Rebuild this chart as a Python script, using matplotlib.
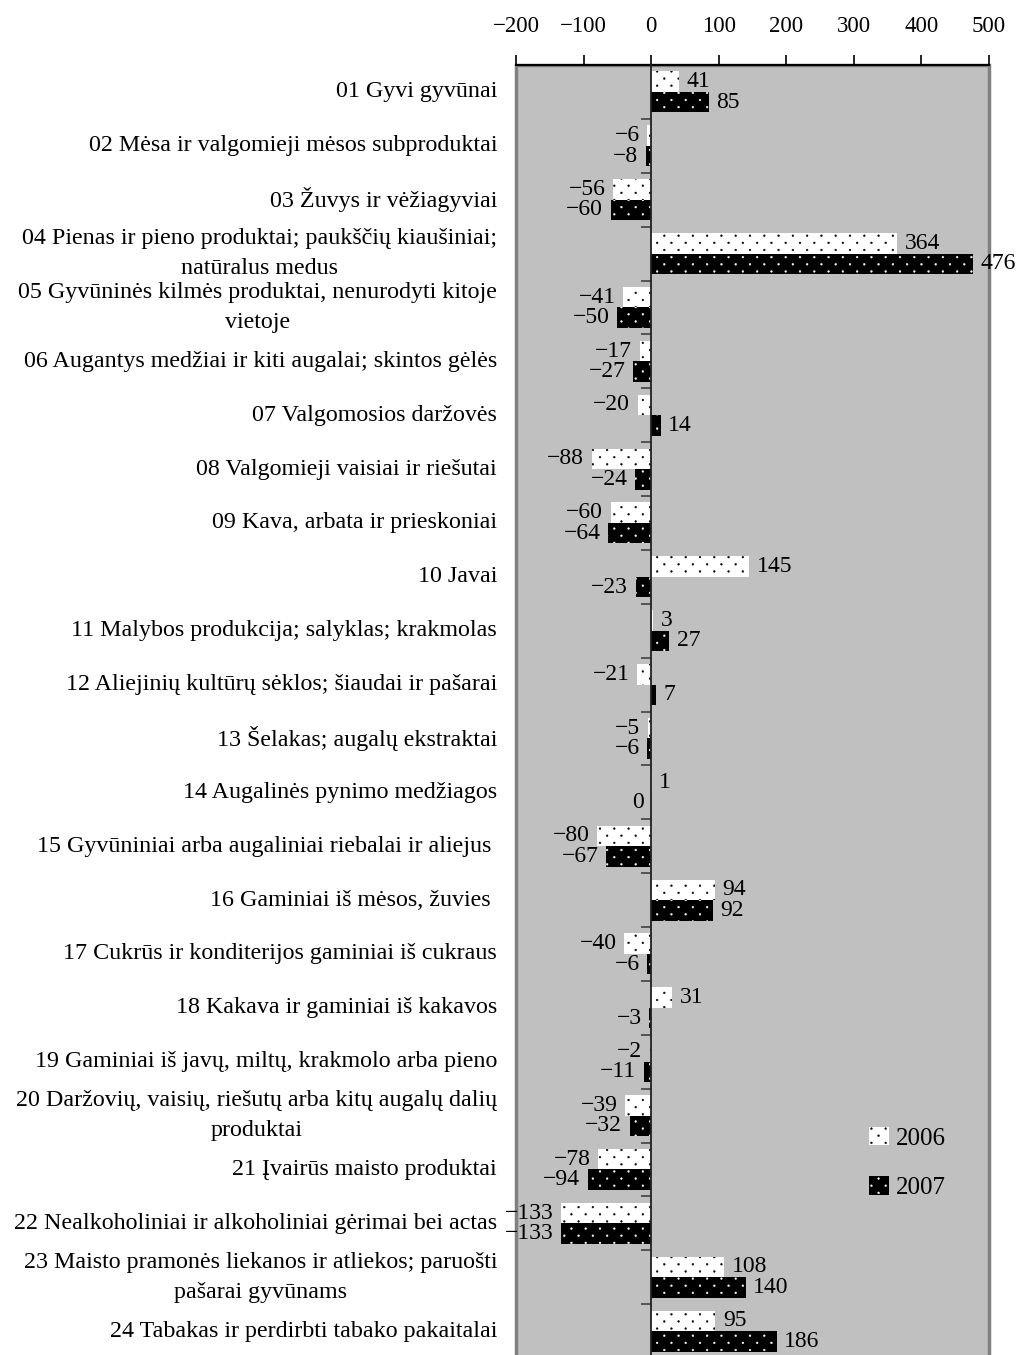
import matplotlib
matplotlib.use("Agg")
import matplotlib.pyplot as plt
import matplotlib.transforms as mtransforms
import matplotlib.hatch as mhatch
from matplotlib.path import Path
from matplotlib.patches import Patch
import numpy as np

plt.rcParams['font.family'] = ['Liberation Serif', 'DejaVu Serif']
plt.rcParams['hatch.linewidth'] = 0.3


class StaggeredDots(mhatch.HatchPatternBase):
    """Small filled dots, staggered rows, rows twice as dense as columns."""
    filled = True

    def __init__(self, hatch, density):
        self.ncols = 7
        self.nrows = 14
        self.radius = 0.009
        circ = Path.unit_circle()
        self.shape_vertices = circ.vertices
        self.shape_codes = circ.codes
        if hatch.count('.') == 0:
            self.num_vertices = 0
            return
        n_even = (self.nrows // 2 + 1) * (self.ncols + 1)
        n_odd = (self.nrows // 2) * self.ncols
        self.num_vertices = (n_even + n_odd) * len(self.shape_vertices)

    def set_vertices_and_codes(self, vertices, codes):
        sv = self.shape_vertices * self.radius
        vparts, cparts = [], []
        step = 1.0 / self.ncols
        for r in range(self.nrows + 1):
            if r % 2 == 0:
                cols = np.linspace(0, 1, self.ncols + 1)
            else:
                cols = np.linspace(step / 2, 1 - step / 2, self.ncols)
            rp = r / self.nrows
            for c in cols:
                vparts.append(sv + [c, rp])
                cparts.append(self.shape_codes)
        np.concatenate(vparts, out=vertices)
        np.concatenate(cparts, out=codes)


mhatch._hatch_types = [h for h in mhatch._hatch_types
                       if h is not mhatch.SmallFilledCircles] + [StaggeredDots]

categories = [
    "01 Gyvi gyvūnai",
    "02 Mėsa ir valgomieji mėsos subproduktai",
    "03 Žuvys ir vėžiagyviai",
    "04 Pienas ir pieno produktai; paukščių kiaušiniai;\nnatūralus medus",
    "05 Gyvūninės kilmės produktai, nenurodyti kitoje\nvietoje",
    "06 Augantys medžiai ir kiti augalai; skintos gėlės",
    "07 Valgomosios daržovės",
    "08 Valgomieji vaisiai ir riešutai",
    "09 Kava, arbata ir prieskoniai",
    "10 Javai",
    "11 Malybos produkcija; salyklas; krakmolas",
    "12 Aliejinių kultūrų sėklos; šiaudai ir pašarai",
    "13 Šelakas; augalų ekstraktai",
    "14 Augalinės pynimo medžiagos",
    "15 Gyvūniniai arba augaliniai riebalai ir aliejus ",
    "16 Gaminiai iš mėsos, žuvies ",
    "17 Cukrūs ir konditerijos gaminiai iš cukraus",
    "18 Kakava ir gaminiai iš kakavos",
    "19 Gaminiai iš javų, miltų, krakmolo arba pieno",
    "20 Daržovių, vaisių, riešutų arba kitų augalų dalių\nproduktai",
    "21 Įvairūs maisto produktai",
    "22 Nealkoholiniai ir alkoholiniai gėrimai bei actas",
    "23 Maisto pramonės liekanos ir atliekos; paruošti\npašarai gyvūnams",
    "24 Tabakas ir perdirbti tabako pakaitalai",
]
values_2006 = [41, -6, -56, 364, -41, -17, -20, -88, -60, 145, 3, -21, -5, 1,
               -80, 94, -40, 31, -2, -39, -78, -133, 108, 95]
values_2007 = [85, -8, -60, 476, -50, -27, 14, -24, -64, -23, 27, 7, -6, 0,
               -67, 92, -6, -3, -11, -32, -94, -133, 140, 186]
series_names = ["2006", "2007"]
x_ticks = [-200, -100, 0, 100, 200, 300, 400, 500]

FS_TICK = 16.5
FS_VAL = 17
FS_CAT = 17.3
FS_LEG = 18
W, H = 1019, 1355
fig = plt.figure(figsize=(W / 100, H / 100), dpi=100)
left, right, top, bottom = 516, 989, 65, 1358
ax = fig.add_axes([left / W, (H - bottom) / H, (right - left) / W, (bottom - top) / H])

ax.set_facecolor('#C0C0C0')
ax.patch.set_edgecolor('#808080')
ax.patch.set_linewidth(2.5)

n = len(categories)
y = np.arange(n)
bh = 0.38
ax.barh(y - bh / 2, values_2006, height=bh, color='white', edgecolor='black',
        linewidth=0, hatch='.', zorder=3)
ax.barh(y + bh / 2, values_2007, height=bh, color='black', edgecolor='white',
        linewidth=0, hatch='.', zorder=3)


def fmt(v):
    return str(v).replace('-', '\u2212')


pad = 11
for vals, offs in ((values_2006, -bh / 2), (values_2007, bh / 2)):
    for i, v in enumerate(vals):
        if v > 0:
            ax.text(v + pad, i + offs, fmt(v), ha='left', va='center', fontsize=FS_VAL,
                    clip_on=False, zorder=4)
        else:
            ax.text(v - pad, i + offs, fmt(v), ha='right', va='center', fontsize=FS_VAL,
                    clip_on=False, zorder=4)

ax.set_xlim(-200, 500)
ax.set_ylim(n - 0.5, -0.5)

# x axis on top
ax.xaxis.tick_top()
ax.set_xticks(x_ticks)
ax.set_xticklabels([fmt(t) for t in x_ticks])
ax.tick_params(axis='x', direction='out', length=7, width=1.2, pad=13,
               labelsize=FS_TICK, color='black')

# y axis at zero with boundary ticks
ax.spines['left'].set_position(('data', 0))
ax.spines['left'].set_color('#202020')
ax.spines['left'].set_linewidth(1.3)
ax.spines['left'].set_zorder(5)
ax.set_yticks(np.arange(n + 1) - 0.5)
ax.set_yticklabels([])
ax.tick_params(axis='y', direction='out', length=7, width=1.2, color='#404040')
ax.spines['top'].set_color('black')
ax.spines['top'].set_linewidth(1.5)
ax.spines['right'].set_visible(False)
ax.spines['bottom'].set_visible(False)

# category labels
trans = mtransforms.blended_transform_factory(ax.transAxes, ax.transData)
for i, lab in enumerate(categories):
    ax.text(-0.040, i, lab, transform=trans, ha='right', va='center',
            multialignment='center', fontsize=FS_CAT, linespacing=1.55, clip_on=False)

handles = [Patch(facecolor='white', edgecolor='black', linewidth=0, hatch='.'),
           Patch(facecolor='black', edgecolor='white', linewidth=0, hatch='.')]
ax.legend(handles, series_names, loc='center left', bbox_to_anchor=(0.699, 0.151),
          frameon=False, fontsize=FS_LEG, handlelength=0.78, handleheight=0.78,
          handletextpad=0.3, labelspacing=1.05)

fig.savefig('out.png', dpi=100)
